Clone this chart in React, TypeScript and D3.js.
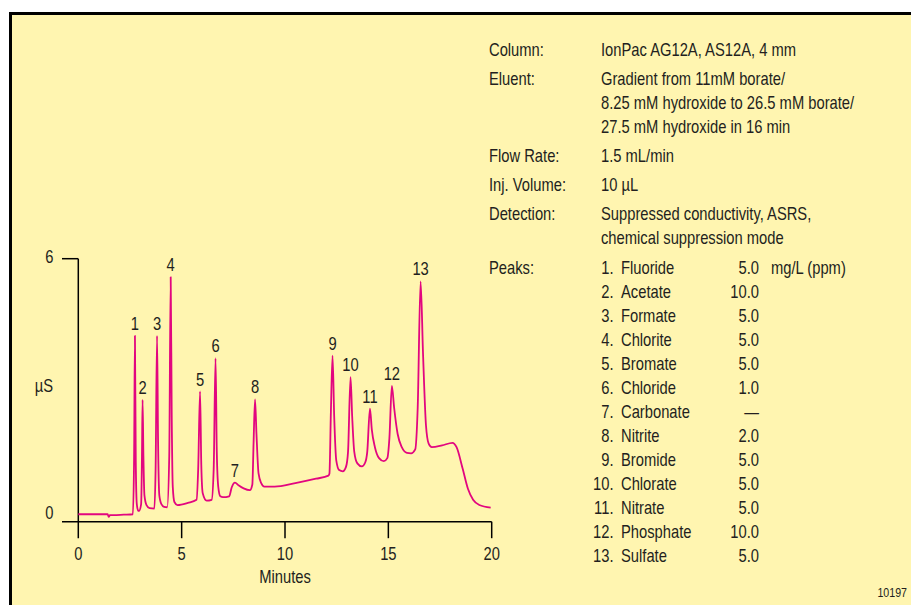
import React from "react";
import * as d3 from "d3";

// retention time (min) / response (µS)
const traceTime = [
  0, 1.3, 1.42, 1.47, 1.53, 1.7, 2.2, 2.64,
  2.7, 2.74, 2.78, 2.83, 2.9,
  2.94, 3.04, 3.08, 3.11, 3.15, 3.2, 3.3, 3.45, 3.68,
  3.74, 3.81, 3.86, 3.92, 4.02, 4.15, 4.3,
  4.4, 4.47, 4.52, 4.57, 4.65, 4.8, 5.3, 5.72,
  5.8, 5.89, 5.95, 6.02, 6.21, 6.45,
  6.55, 6.64, 6.7, 6.77, 6.87, 7.0, 7.3,
  7.42, 7.58, 7.75, 8.0, 8.3, 8.42,
  8.48, 8.55, 8.62, 8.72, 8.85, 9.0, 9.5, 10.5, 11.5, 12.1,
  12.15, 12.22, 12.3, 12.38, 12.48, 12.62, 12.8, 12.95,
  13.05, 13.17, 13.25, 13.35, 13.5, 13.72, 13.88,
  13.98, 14.11, 14.2, 14.35, 14.55, 14.78, 14.95,
  15.05, 15.17, 15.28, 15.45, 15.65, 15.9, 16.1, 16.3,
  16.42, 16.56, 16.68, 16.82, 16.95, 17.1, 17.6, 18.1, 18.3,
  18.6, 18.85, 19.1, 19.4, 19.95,
];
const traceValue = [
  0.17, 0.17, 0.17, 0.11, 0.15, 0.15, 0.16, 0.17,
  1.5, 4.24, 1.4, 0.4, 0.25,
  0.25, 0.4, 1.5, 2.78, 1.5, 0.6, 0.38, 0.31, 0.3,
  1.2, 4.24, 1.8, 0.6, 0.4, 0.34, 0.33,
  1.5, 5.58, 2.4, 0.8, 0.45, 0.38, 0.43, 0.5,
  1.2, 2.97, 1.3, 0.65, 0.48, 0.5,
  1.2, 3.73, 1.6, 0.8, 0.58, 0.56, 0.58,
  0.78, 0.89, 0.83, 0.76, 0.72, 0.85,
  1.8, 2.79, 2.0, 1.1, 0.88, 0.8, 0.8, 0.88, 0.98, 1.05,
  1.1, 2.5, 3.79, 2.4, 1.4, 1.18, 1.15, 1.25,
  1.6, 3.3, 2.4, 1.6, 1.33, 1.26, 1.35,
  1.6, 2.58, 2.1, 1.7, 1.45, 1.38, 1.45,
  1.9, 3.1, 2.6, 2.0, 1.7, 1.57, 1.56, 1.65,
  2.6, 5.48, 3.8, 2.2, 1.78, 1.7, 1.74, 1.8, 1.7,
  1.2, 0.75, 0.5, 0.38, 0.32,
];

const peakNumbers = ["1", "2", "3", "4", "5", "6", "7", "8", "9", "10", "11", "12", "13"];
const peakTimes = [2.74, 3.11, 3.81, 4.47, 5.89, 6.64, 7.58, 8.55, 12.3, 13.17, 14.11, 15.17, 16.56];
const peakHeights = [4.24, 2.78, 4.24, 5.58, 2.97, 3.73, 0.89, 2.79, 3.79, 3.3, 2.58, 3.1, 5.48];

const xTicks = [0, 5, 10, 15, 20];
const yTicks = [0, 6];

const conditionLabels = ["Column:", "Eluent:", "Flow Rate:", "Inj. Volume:", "Detection:"];
const conditionValues = [
  ["IonPac AG12A, AS12A, 4 mm"],
  ["Gradient from 11mM borate/", "8.25 mM hydroxide to 26.5 mM borate/", "27.5 mM hydroxide in 16 min"],
  ["1.5 mL/min"],
  ["10 µL"],
  ["Suppressed conductivity, ASRS,", "chemical suppression mode"],
];
const analyteNames = [
  "Fluoride", "Acetate", "Formate", "Chlorite", "Bromate", "Chloride", "Carbonate",
  "Nitrite", "Bromide", "Chlorate", "Nitrate", "Phosphate", "Sulfate",
];
const analyteConc = ["5.0", "10.0", "5.0", "5.0", "5.0", "1.0", "—", "2.0", "5.0", "5.0", "5.0", "10.0", "5.0"];

const W = 911;
const H = 605;
const FONT = "'Liberation Sans', Arial, sans-serif";
const INK = "#231f20";
const PINK = "#e2067f";
const NARROW = 0.82; // condensed look: squeeze Liberation Sans horizontally

type Anchor = "start" | "middle" | "end";

// text squeezed around its anchor point
const NText = (props: { x: number; y: number; anchor?: Anchor; size?: number; children: React.ReactNode }) => (
  <text
    transform={`translate(${props.x},${props.y}) scale(${NARROW},1)`}
    textAnchor={props.anchor || "start"}
    fontSize={props.size || 18}
    fill={INK}
  >
    {props.children}
  </text>
);

const App = () => {
  const x = d3.scaleLinear().domain([0, 20]).range([78.3, 491.7]);
  const y = d3.scaleLinear().domain([0, 6]).range([521.7, 258.7]);

  const line = d3
    .line<number>()
    .x((d, i) => x(traceTime[i]))
    .y((d) => y(d))
    .curve(d3.curveMonotoneX);

  const rowY: number[] = [];
  let cy = 56;
  conditionValues.forEach((vals) => {
    rowY.push(cy);
    cy += 24 * (vals.length - 1) + 29;
  });
  const peaksTop = 274;

  return (
    <div style={{ position: "fixed", left: 0, top: 0, width: W, height: H, background: "#fff" }}>
      <svg width={W} height={H} style={{ display: "block" }} fontFamily={FONT}>
        <rect x={10.5} y={13.5} width={W} height={H} fill="#fff5b0" stroke="#000" strokeWidth={3} />

        {/* axes */}
        <g stroke="#000" strokeWidth={1.5} fill="none">
          <line x1={62} x2={x(20)} y1={y(0)} y2={y(0)} />
          <line x1={x(0)} x2={x(0)} y1={y(6)} y2={y(0) + 16.5} />
          <line x1={62} x2={x(0)} y1={y(6)} y2={y(6)} />
          {xTicks.slice(1).map((t) => (
            <line key={t} x1={x(t)} x2={x(t)} y1={y(0)} y2={y(0) + 16.5} />
          ))}
        </g>
        {xTicks.map((t) => (
          <NText key={t} x={x(t)} y={560} anchor="middle">
            {t}
          </NText>
        ))}
        {yTicks.map((t) => (
          <NText key={t} x={53.5} y={t === 0 ? y(t) - 3 : y(t) + 4} anchor="end">
            {t}
          </NText>
        ))}
        <NText x={x(10)} y={583} anchor="middle">
          Minutes
        </NText>
        <NText x={44} y={392} anchor="middle">
          µS
        </NText>

        <path d={line(traceValue) || ""} fill="none" stroke={PINK} strokeWidth={1.8} strokeLinejoin="round" />

        {peakNumbers.map((n, i) => (
          <NText key={n} x={x(peakTimes[i])} y={y(peakHeights[i]) - 6} anchor="middle">
            {n}
          </NText>
        ))}

        {/* conditions */}
        {conditionLabels.map((lab, i) => (
          <g key={lab}>
            <NText x={489} y={rowY[i]}>
              {lab}
            </NText>
            {conditionValues[i].map((v, j) => (
              <NText key={j} x={601} y={rowY[i] + j * 24}>
                {v}
              </NText>
            ))}
          </g>
        ))}
        <NText x={489} y={peaksTop}>
          Peaks:
        </NText>
        {analyteNames.map((name, i) => (
          <g key={name}>
            <NText x={613.5} y={peaksTop + i * 24} anchor="end">
              {`${i + 1}.`}
            </NText>
            <NText x={621} y={peaksTop + i * 24}>
              {name}
            </NText>
            <NText x={759} y={peaksTop + i * 24} anchor="end">
              {analyteConc[i]}
            </NText>
          </g>
        ))}
        <NText x={771} y={peaksTop}>
          mg/L (ppm)
        </NText>
        <NText x={907} y={597} anchor="end" size={13}>
          10197
        </NText>
      </svg>
    </div>
  );
};

export default App;
